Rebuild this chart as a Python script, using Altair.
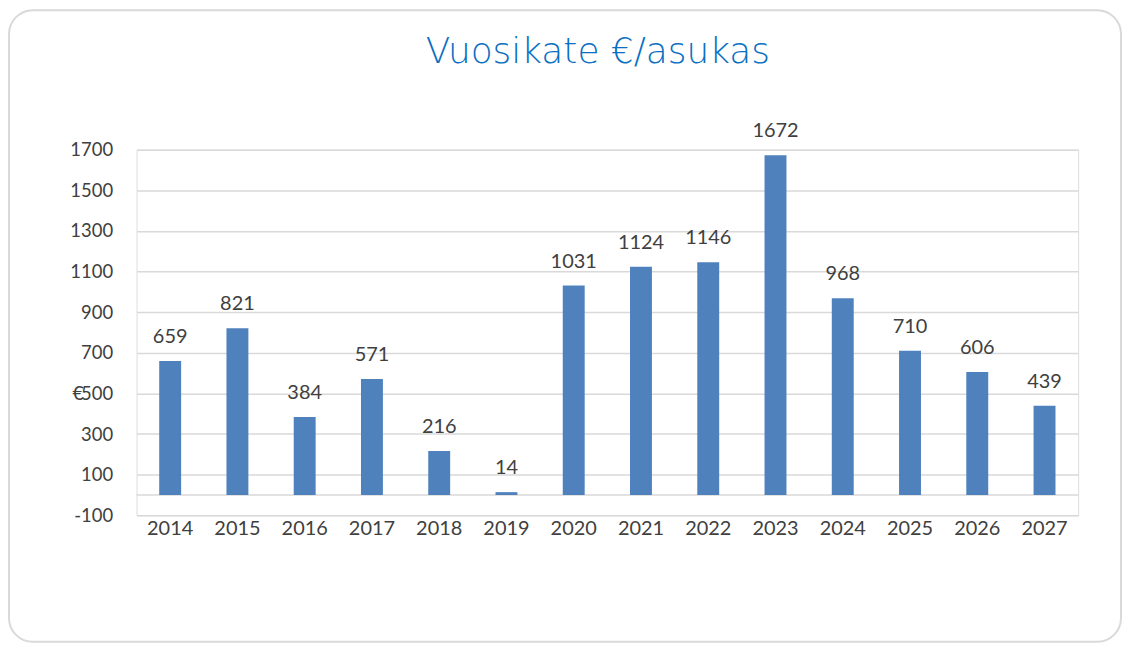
import altair as alt
import pandas as pd

years = ["2014", "2015", "2016", "2017", "2018", "2019", "2020",
         "2021", "2022", "2023", "2024", "2025", "2026", "2027"]
values = [659, 821, 384, 571, 216, 14, 1031, 1124, 1146, 1672, 968, 710, 606, 439]
y_ticks = [-100, 100, 300, 500, 700, 900, 1100, 1300, 1500, 1700]
title_text = "Vuosikate €/asukas"

df = pd.DataFrame({"year": years, "value": values})

TXT = "#404040"
GRID = "#d9d9d9"
FONT = "Lato"

x_enc = alt.X("year:N", sort=years,
              scale=alt.Scale(paddingInner=0.674, paddingOuter=0.337),
              axis=alt.Axis(title=None, labelAngle=0, ticks=False, domain=False,
                            labelFont=FONT, labelFontSize=20, labelColor=TXT,
                            labelPadding=3))
y_enc = alt.Y("value:Q",
              scale=alt.Scale(domain=[-100, 1700], nice=False, zero=False),
              axis=alt.Axis(values=y_ticks, title="€", titleAngle=0,
                            titleX=-59, titleY=245, titleAlign="center",
                            titleBaseline="middle", titleFont=FONT,
                            titleFontSize=20, titleFontWeight="normal",
                            titleColor=TXT, ticks=False, domain=False,
                            labelExpr="'' + datum.value",
                            labelFont=FONT, labelFontSize=18.5, labelColor=TXT,
                            labelPadding=24, grid=True, gridColor=GRID,
                            gridWidth=1.5))

base = alt.Chart(df)

bars = base.mark_bar(color="#4F81BD").encode(x=x_enc, y=y_enc, y2=alt.datum(0))

labels = base.mark_text(font=FONT, fontSize=20, color=TXT, dy=-18,
                        baseline="alphabetic", align="center").encode(
    x=alt.X("year:N", sort=years), y="value:Q", text="value:Q")

zero = alt.Chart(pd.DataFrame({"z": [0]})).mark_rule(
    color=GRID, strokeWidth=1.5).encode(y=alt.datum(0))

frame = alt.Chart(pd.DataFrame({"a": [0]})).mark_rect(
    fillOpacity=0, stroke=GRID, strokeWidth=2, cornerRadius=24).encode(
    x=alt.value(-128), x2=alt.value(988), y=alt.value(-140), y2=alt.value(494))

title = alt.Chart(pd.DataFrame({"t": [title_text]})).mark_text(
    font="DejaVu Sans", fontSize=36, fontWeight=300, color="#0A6FC2",
    align="center", baseline="middle").encode(
    x=alt.value(463), y=alt.value(-98), text="t:N")

chart = alt.layer(frame, zero, bars, labels, title).properties(
    width=945, height=367,
    autosize=alt.AutoSizeParams(type="none"),
    padding={"left": 129, "top": 141, "right": 44, "bottom": 129},
).configure_view(stroke=None).configure(background="white")

chart.save("out.html", embed_options={"renderer": "svg", "actions": False})
